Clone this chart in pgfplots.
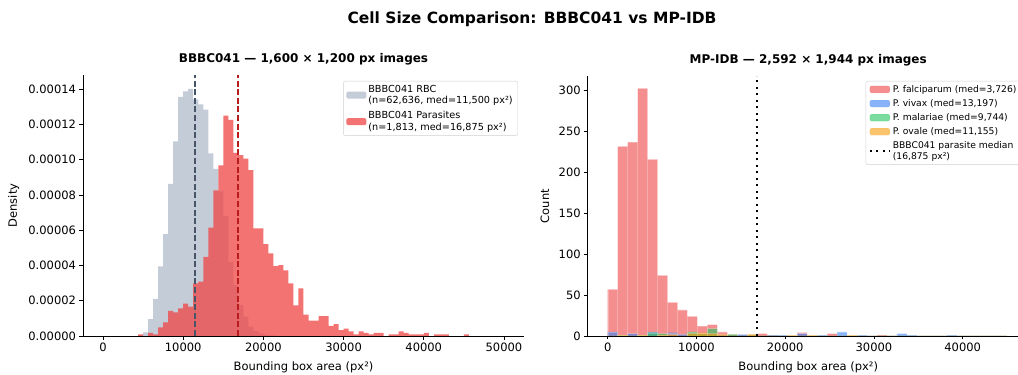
\documentclass[border=0pt]{standalone}
\usepackage{fontspec}
\setmainfont{DejaVu Sans}
\usepackage{pgfplots}
\pgfplotsset{compat=1.18}

\definecolor{rbc}{HTML}{94A3B8}
\definecolor{par}{HTML}{EF4444}
\definecolor{rbcline}{HTML}{475569}
\definecolor{parline}{HTML}{B91C1C}
\definecolor{cviv}{HTML}{3B82F6}
\definecolor{cmal}{HTML}{22C55E}
\definecolor{cova}{HTML}{F59E0B}

\pgfplotsset{
  mystyle/.style={
    scale only axis,
    axis x line*=bottom, axis y line*=left,
    axis line style={line width=0.8pt, black},
    tick align=outside,
    major tick length=3.5pt,
    tick style={black, line width=0.8pt},
    tick label style={font=\fontsize{11.5}{13}\selectfont},
    label style={font=\fontsize{11.5}{13}\selectfont},
    title style={font=\bfseries\fontsize{12}{14}\selectfont, anchor=base, yshift=6.5pt},
    /pgf/number format/assume math mode=true,
    /pgf/number format/1000 sep={},
    scaled x ticks=false,
    axis on top,
    legend cell align=left,
  }
}

\begin{document}
\begin{tikzpicture}

\begin{axis}[mystyle,
  at={(83pt,39pt)}, anchor=south west,
  width=441pt, height=261pt,
  xmin=-2500, xmax=52500, ymin=0, ymax=0.000148,
  xtick={0,10000,20000,30000,40000,50000},
  ytick={0,0.00002,0.00004,0.00006,0.00008,0.0001,0.00012,0.00014},
  scaled y ticks=false,
  yticklabel style={/pgf/number format/fixed, /pgf/number format/fixed zerofill, /pgf/number format/precision=5},
  title={BBBC041 — 1,600 × 1,200 px images},
  xlabel={Bounding box area (px²)},
  ylabel={Density},
  xlabel style={at={(axis description cs:0.5,-0.119)}, anchor=center},
  ylabel style={at={(axis description cs:-0.157,0.5)}, anchor=center},
  legend style={at={(1,1)}, anchor=north east, xshift=-6pt, yshift=-6pt,
    font=\fontsize{9.7}{11.2}\selectfont, draw=black!18, rounded corners=2pt,
    fill=white, fill opacity=0.8, text opacity=1, inner xsep=3pt, inner ysep=2pt,
    row sep=2.5pt, cells={anchor=west, align=left}},
]
\addplot[const plot, fill=rbc, fill opacity=0.55, draw=none,
  legend image code/.code={\fill[rbc,fill opacity=0.55] (0pt,-3.5pt) rectangle (20pt,3.5pt);}]
coordinates {
(4375,0.0000003) (5000,0.0000020) (5625,0.0000095) (6250,0.0000210)
(6875,0.0000395) (7500,0.0000577) (8125,0.0000863) (8750,0.0001104)
(9375,0.0001356) (10000,0.0001387) (10625,0.0001402) (11250,0.0001342)
(11875,0.0001314) (12500,0.0001284) (13125,0.0001036) (13750,0.0000948)
(14375,0.0000820) (15000,0.0000680) (15625,0.0000420) (16250,0.0000290)
(16875,0.0000175) (17500,0.0000110) (18125,0.0000053) (18750,0.0000028)
(19375,0.0000015) (20000,0.0000008) (20625,0.0000004) (21250,0.0000002)
(21875,0)
} \closedcycle;
\addlegendentry{BBBC041 RBC\\(n=62,636, med=11,500 px²)}

\addplot[const plot, fill=par, fill opacity=0.75, draw=none,
  legend image code/.code={\fill[par,fill opacity=0.75] (0pt,-3.5pt) rectangle (20pt,3.5pt);}]
coordinates {
(4375,0.0000009) (5000,0) (5625,0.0000018) (6250,0.0000009)
(6875,0.0000049) (7500,0.0000077) (8125,0.0000142) (8750,0.0000134)
(9375,0.0000157) (10000,0.0000183) (10625,0.0000166) (11250,0.0000298)
(11875,0.0000308) (12500,0.0000449) (13125,0.0000615) (13750,0.0000826)
(14375,0.0000968) (15000,0.0001250) (15625,0.0001226) (16250,0.0001038)
(16875,0.0001025) (17500,0.0001006) (18125,0.0000940) (18750,0.0000610)
(19375,0.0000610) (20000,0.0000521) (20625,0.0000468) (21250,0.0000396)
(21875,0.0000402) (22500,0.0000372) (23125,0.0000298) (23750,0.0000174)
(24375,0.0000270) (25000,0.0000121) (25625,0.0000087) (26250,0.0000087)
(26875,0.0000113) (27500,0.0000113) (28125,0.0000058) (28750,0.0000068)
(29375,0.0000034) (30000,0.0000042) (30625,0.0000026) (31250,0.0000009)
(31875,0.0000026) (32500,0.0000018) (33125,0.0000009) (33750,0.0000018)
(34375,0.0000018) (35000,0) (35625,0.0000009) (36250,0.0000009)
(36875,0.0000026) (37500,0.0000018) (38125,0.0000009) (38750,0.0000009)
(39375,0.0000009) (40000,0.0000018) (40625,0) (41250,0.0000009)
(41875,0.0000009) (42500,0.0000009) (43125,0) (43750,0)
(44375,0) (45000,0.0000009) (45625,0)
} \closedcycle;
\addlegendentry{BBBC041 Parasites\\(n=1,813, med=16,875 px²)}

\addplot[rbcline, line width=2pt, dash pattern=on 6pt off 2.6pt, forget plot]
coordinates {(11500,0) (11500,0.000148)};
\addplot[parline, line width=2pt, dash pattern=on 6pt off 2.6pt, forget plot]
coordinates {(16875,0) (16875,0.000148)};
\end{axis}

\begin{axis}[mystyle,
  at={(587.7pt,39pt)}, anchor=south west,
  width=441pt, height=260pt,
  xmin=-2250, xmax=47440, ymin=0, ymax=318,
  xtick={0,10000,20000,30000,40000},
  ytick={0,50,100,150,200,250,300},
  title={MP-IDB — 2,592 × 1,944 px images},
  xlabel={Bounding box area (px²)},
  ylabel={Count},
  xlabel style={at={(axis description cs:0.5,-0.119)}, anchor=center},
  ylabel style={at={(axis description cs:-0.097,0.5)}, anchor=center},
  legend style={at={(1,1)}, anchor=north east, xshift=-7pt, yshift=-5pt,
    font=\fontsize{9.2}{10.6}\selectfont, draw=black!18, rounded corners=2pt,
    fill=white, fill opacity=0.8, text opacity=1, inner xsep=3pt, inner ysep=2pt,
    row sep=1.6pt, cells={anchor=west, align=left}},
]
\addplot[ybar interval, fill=par, fill opacity=0.6, draw=white, draw opacity=0.25, line width=0.3pt,
  legend image code/.code={\fill[par,fill opacity=0.6] (0pt,-3.5pt) rectangle (20pt,3.5pt);}]
coordinates {
(0,57) (1124,232) (2248,237) (3372,303) (4496,216) (5620,74) (6744,41) (7868,32)
(8992,24) (10116,12) (11240,14) (12364,5) (13488,2) (14612,1) (15736,2) (16860,3)
(17984,1) (19108,0) (20232,0) (21356,4) (22480,0) (23604,0) (24728,3) (25852,0)
(26976,0) (28100,0) (29224,0) (30348,1) (31472,0) (32596,0) (33720,0) (34844,0)
(35968,0) (37092,0) (38216,0) (39340,0) (40464,0) (41588,0) (42712,0) (43836,0)
(44960,0)
};
\addlegendentry{P. falciparum (med=3,726)}

\addplot[ybar interval, fill=cviv, fill opacity=0.6, draw=white, draw opacity=0.25, line width=0.3pt,
  legend image code/.code={\fill[cviv,fill opacity=0.6] (0pt,-3.5pt) rectangle (20pt,3.5pt);}]
coordinates {
(0,5) (1124,0) (2248,3) (3372,0) (4496,5) (5620,0) (6744,4) (7868,2)
(8992,0) (10116,0) (11240,0) (12364,1) (13488,0) (14612,2) (15736,0) (16860,0)
(17984,1) (19108,1) (20232,0) (21356,3) (22480,0) (23604,1) (24728,0) (25852,5)
(26976,0) (28100,1) (29224,0) (30348,0) (31472,0) (32596,3) (33720,1) (34844,0)
(35968,0) (37092,0) (38216,1) (39340,0) (40464,0) (41588,0) (42712,0) (43836,0)
(44960,0)
};
\addlegendentry{P. vivax (med=13,197)}

\addplot[ybar interval, fill=cmal, fill opacity=0.6, draw=white, draw opacity=0.25, line width=0.3pt,
  legend image code/.code={\fill[cmal,fill opacity=0.6] (0pt,-3.5pt) rectangle (20pt,3.5pt);}]
coordinates {
(0,0) (1124,1) (2248,0) (3372,1) (4496,4) (5620,3) (6744,0) (7868,0)
(8992,5) (10116,3) (11240,9) (12364,0) (13488,2) (14612,0) (15736,1) (16860,0)
(17984,0) (19108,0) (20232,0) (21356,0) (22480,0) (23604,0) (24728,0) (25852,0)
(26976,0) (28100,0) (29224,0) (30348,0) (31472,0) (32596,0) (33720,0) (34844,0)
(35968,0) (37092,0) (38216,0) (39340,0) (40464,0) (41588,0) (42712,0) (43836,0)
(44960,0)
};
\addlegendentry{P. malariae (med=9,744)}

\addplot[ybar interval, fill=cova, fill opacity=0.6, draw=white, draw opacity=0.25, line width=0.3pt,
  legend image code/.code={\fill[cova,fill opacity=0.6] (0pt,-3.5pt) rectangle (20pt,3.5pt);}]
coordinates {
(0,0) (1124,1) (2248,0) (3372,1) (4496,0) (5620,1) (6744,2) (7868,0)
(8992,3) (10116,4) (11240,3) (12364,2) (13488,0) (14612,0) (15736,2) (16860,0)
(17984,0) (19108,0) (20232,1) (21356,0) (22480,1) (23604,0) (24728,0) (25852,0)
(26976,1) (28100,0) (29224,0) (30348,0) (31472,0) (32596,0) (33720,0) (34844,0)
(35968,0) (37092,0) (38216,0) (39340,0) (40464,0) (41588,0) (42712,0) (43836,0)
(44960,0)
};
\addlegendentry{P. ovale (med=11,155)}

\addplot[black, line width=2pt, dash pattern=on 2pt off 4.5pt,
  legend image code/.code={\draw[black, line width=2pt, dash pattern=on 2pt off 4.5pt] (0pt,0pt) -- (20pt,0pt);}]
coordinates {(16875,0) (16875,318)};
\addlegendentry{BBBC041 parasite median\\(16,875 px²)}
\end{axis}

\node[font=\bfseries\fontsize{15.5}{18}\selectfont, anchor=base] at (532pt,351.5pt) {Cell Size Comparison: BBBC041 vs MP-IDB};

\pgfresetboundingbox
\useasboundingbox (0pt,0pt) rectangle (1018pt,375pt);
\end{tikzpicture}
\end{document}
